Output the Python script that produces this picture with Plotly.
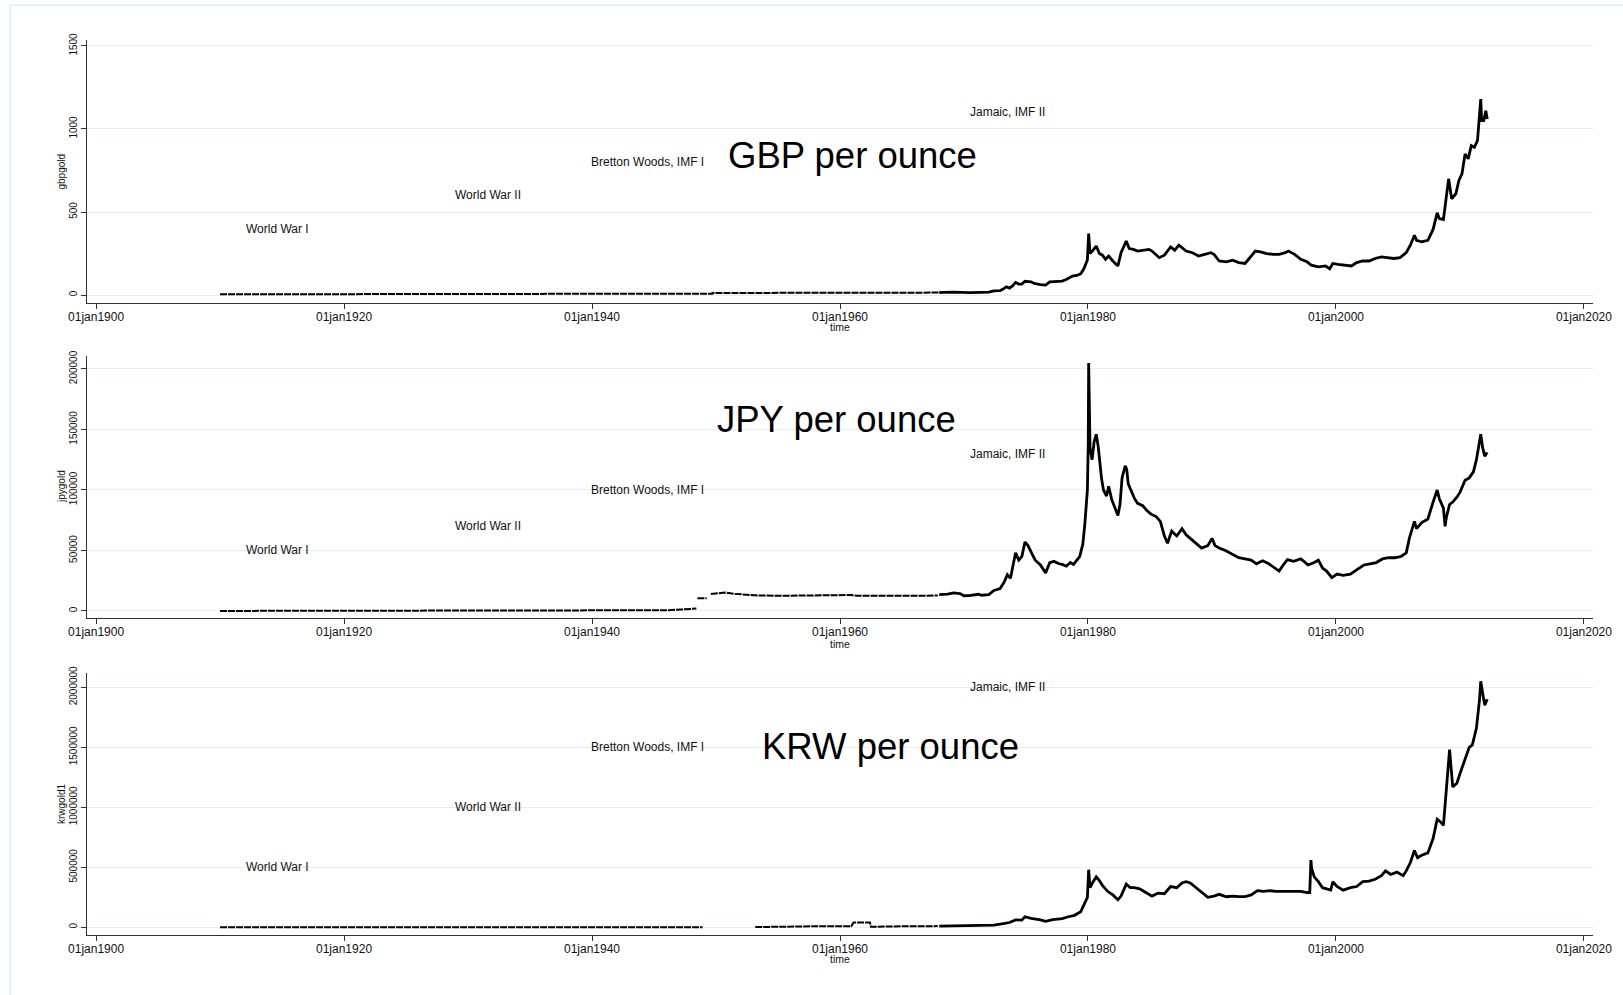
import plotly.graph_objects as go

W, H = 1623, 995

# ---------------------------------------------------------------- axes text
tick_dates = ["1900-01-01", "1920-01-01", "1940-01-01", "1960-01-01",
              "1980-01-01", "2000-01-01", "2020-01-01"]
tick_text = ["01jan1900", "01jan1920", "01jan1940", "01jan1960",
             "01jan1980", "01jan2000", "01jan2020"]

gbp_ticks = [0, 500, 1000, 1500]
jpy_ticks = [0, 50000, 100000, 150000, 200000]
krw_ticks = [0, 500000, 1000000, 1500000, 2000000]

# ---------------------------------------------------------------- events
event_text = ["World War I", "World War II", "Bretton Woods, IMF I", "Jamaic, IMF II"]
event_dates = ["1914-09-01", "1931-08-15", "1944-06-20", "1973-07-01"]
gbp_event_y = [400, 600, 800, 1100]
jpy_event_y = [50000, 70000, 100000, 130000]
krw_event_y = [500000, 1000000, 1500000, 2000000]

# ---------------------------------------------------------------- GBP per ounce
gbp_early_t = ["1910-01-01", "1914-07-31", "1919-04-01", "1920-02-01", "1922-06-01",
               "1925-04-28", "1931-09-20", "1932-06-01", "1933-06-01", "1934-06-01",
               "1938-06-01", "1939-09-01", "1949-09-17", "1949-09-19", "1951-06-01",
               "1955-01-01", "1960-10-20", "1961-06-01", "1967-11-17", "1967-12-20"]
gbp_early_v = [4.25, 4.25, 4.4, 5.9, 4.6,
               4.25, 4.25, 5.9, 6.3, 7.0,
               7.1, 8.4, 8.4, 12.4, 12.8,
               12.5, 14.0, 12.5, 12.5, 14.6]

gbp_t = ["1968-01-02", "1968-04-01", "1969-03-01", "1969-12-01", "1970-06-01",
         "1971-06-01", "1972-01-01", "1972-06-01", "1972-12-01", "1973-03-01",
         "1973-06-01", "1973-09-01", "1973-12-01", "1974-03-01", "1974-06-01",
         "1974-09-01", "1974-12-01", "1975-06-01", "1975-09-01", "1976-03-01",
         "1976-08-01", "1976-12-01", "1977-06-01", "1977-12-01", "1978-04-01",
         "1978-10-01", "1979-02-01", "1979-06-01", "1979-09-01", "1979-12-15",
         "1980-01-21", "1980-03-01", "1980-06-01", "1980-09-01", "1980-12-01",
         "1981-03-01", "1981-06-01", "1981-09-01", "1982-01-01", "1982-06-01",
         "1982-09-01", "1983-02-01", "1983-05-01", "1983-09-01", "1984-01-01",
         "1984-06-01", "1984-12-01", "1985-03-01", "1985-06-01", "1985-10-01",
         "1986-03-01", "1986-09-01", "1987-01-01", "1987-05-01", "1987-08-01",
         "1987-12-01", "1988-06-01", "1988-12-01", "1989-06-01", "1989-12-01",
         "1990-03-01", "1990-08-01", "1991-03-01", "1991-09-01", "1992-03-01",
         "1992-09-01", "1993-01-01", "1993-07-01", "1993-12-01", "1994-06-01",
         "1994-12-01", "1995-06-01", "1995-12-01", "1996-03-01", "1996-09-01",
         "1997-03-01", "1997-09-01", "1998-01-01", "1998-08-01", "1999-03-01",
         "1999-07-01", "1999-10-01", "2000-03-01", "2000-10-01", "2001-04-01",
         "2001-09-01", "2002-03-01", "2002-09-01", "2003-03-01", "2003-09-01",
         "2004-03-01", "2004-09-01", "2005-03-01", "2005-09-01", "2006-01-01",
         "2006-05-01", "2006-07-01", "2006-12-01", "2007-06-01", "2007-11-01",
         "2008-03-01", "2008-05-01", "2008-09-01", "2008-12-01", "2009-02-01",
         "2009-05-01", "2009-09-01", "2009-12-01", "2010-03-01", "2010-06-01",
         "2010-09-01", "2010-12-01", "2011-03-01", "2011-06-01", "2011-08-01",
         "2011-09-05", "2011-10-01", "2011-12-01", "2012-02-01", "2012-03-15"]
gbp_v = [14.6, 16.5, 18.0, 14.5, 14.8,
         16.5, 17.5, 25.5, 27, 36,
         50, 42, 55, 76, 66,
         66, 83, 80, 70, 63,
         60, 79, 82, 84, 93,
         114, 118, 128, 158, 212,
         370, 250, 270, 295, 250,
         240, 215, 235, 205, 175,
         255, 325, 280, 275, 265,
         270, 275, 265, 250, 225,
         240, 290, 270, 300, 285,
         265, 255, 235, 245, 255,
         245, 205, 200, 210, 195,
         190, 220, 265, 260, 250,
         245, 245, 255, 265, 245,
         215, 200, 180, 170, 175,
         158, 190, 185, 180, 175,
         195, 205, 205, 220, 230,
         225, 220, 225, 255, 300,
         360, 330, 320, 330, 395,
         495, 460, 455, 600, 700,
         580, 610, 690, 730, 850,
         820, 900, 890, 930, 1100,
         1180, 1050, 1050, 1110, 1060]

# ---------------------------------------------------------------- JPY per ounce
jpy_early_t = ["1910-01-01", "1917-09-01", "1930-01-01", "1931-12-13", "1932-12-01",
               "1934-06-01", "1937-06-01", "1941-06-01", "1945-08-01", "1946-03-01",
               "1947-03-01", "1948-06-01", None, "1948-07-01", "1949-04-01",
               None, "1949-08-01", "1950-04-01", "1950-10-01", "1951-06-01",
               "1952-06-01", "1953-06-01", "1955-06-01", "1960-10-20", "1961-06-01",
               "1967-11-20"]
jpy_early_v = [41, 41, 41, 45, 90,
               120, 122, 150, 150, 600,
               1200, 2000, None, 10500, 10500,
               None, 14000, 14800, 15200, 14200,
               13300, 12800, 12600, 13200, 12600,
               12700]

jpy_t = ["1968-01-02", "1968-03-01", "1968-09-01", "1969-03-01", "1969-09-01",
         "1970-01-01", "1970-06-01", "1971-03-01", "1971-06-01", "1972-01-01",
         "1972-06-01", "1972-12-01", "1973-04-01", "1973-07-01", "1973-10-01",
         "1974-01-01", "1974-03-01", "1974-06-01", "1974-09-01", "1974-12-01",
         "1975-03-01", "1975-07-01", "1975-10-01", "1976-03-01", "1976-08-01",
         "1976-12-01", "1977-04-01", "1977-09-01", "1977-12-01", "1978-04-01",
         "1978-08-01", "1978-11-01", "1979-02-01", "1979-05-01", "1979-08-01",
         "1979-10-01", "1979-12-15", "1980-01-10", "1980-01-21", "1980-02-01",
         "1980-03-01", "1980-05-01", "1980-07-01", "1980-09-01", "1980-11-01",
         "1981-02-01", "1981-04-01", "1981-07-01", "1981-09-01", "1981-12-01",
         "1982-03-01", "1982-06-01", "1982-08-01", "1982-10-01", "1983-01-01",
         "1983-02-15", "1983-04-01", "1983-07-01", "1983-10-01", "1984-01-01",
         "1984-06-01", "1984-10-01", "1985-02-01", "1985-07-01", "1985-11-01",
         "1986-03-01", "1986-06-01", "1986-10-01", "1987-03-01", "1987-08-01",
         "1987-12-01", "1988-04-01", "1988-10-01", "1989-03-01", "1989-09-01",
         "1990-01-01", "1990-04-01", "1990-08-01", "1991-02-01", "1991-09-01",
         "1992-03-01", "1992-09-01", "1993-03-01", "1993-08-01", "1994-02-01",
         "1994-08-01", "1995-03-01", "1995-06-01", "1995-10-01", "1996-02-01",
         "1996-08-01", "1997-03-01", "1997-06-01", "1997-10-01", "1998-04-01",
         "1998-08-01", "1998-12-01", "1999-04-01", "1999-09-01", "2000-02-01",
         "2000-08-01", "2001-03-01", "2001-09-01", "2002-04-01", "2002-10-01",
         "2003-04-01", "2003-10-01", "2004-04-01", "2004-10-01", "2005-04-01",
         "2005-09-01", "2005-12-01", "2006-05-01", "2006-07-01", "2006-12-01",
         "2007-06-01", "2007-11-01", "2008-03-01", "2008-05-01", "2008-09-01",
         "2008-10-20", "2008-12-01", "2009-03-01", "2009-06-01", "2009-10-01",
         "2010-01-01", "2010-06-01", "2010-10-01", "2011-02-01", "2011-05-01",
         "2011-08-01", "2011-09-05", "2011-11-01", "2012-01-01", "2012-03-15"]
jpy_v = [13500, 13500, 14000, 15000, 14400,
         12600, 12700, 13800, 13000, 13500,
         17000, 18500, 24000, 30000, 27000,
         40000, 48000, 42000, 45000, 57000,
         54000, 47000, 42000, 38000, 31500,
         40000, 41000, 39000, 38500, 37000,
         40000, 38500, 42000, 45000, 55000,
         72000, 100000, 140000, 205000, 170000,
         135000, 125000, 140000, 146000, 135000,
         110000, 100000, 95000, 103000, 92000,
         85000, 79000, 88000, 110000, 120000,
         117000, 105000, 99000, 93000, 89000,
         87000, 83000, 80000, 78000, 74000,
         62000, 56000, 66000, 62000, 68000,
         63000, 60000, 56000, 52000, 54000,
         60000, 54000, 52000, 50000, 47000,
         44000, 43000, 42000, 39000, 41500,
         39000, 35000, 33000, 38000, 42500,
         41000, 43000, 41000, 38000, 40000,
         42000, 35500, 33000, 27500, 30500,
         29500, 30500, 34000, 38000, 39000,
         40000, 43000, 44000, 44000, 45000,
         48000, 60000, 74000, 68000, 73000,
         76000, 90000, 100000, 93000, 85000,
         70000, 78000, 88000, 90000, 94000,
         98000, 108000, 110000, 115000, 125000,
         140000, 146000, 135000, 128000, 131000]

# ---------------------------------------------------------------- KRW per ounce
krw_early_t = ["1910-01-01", "1931-12-13", "1934-06-01", "1945-08-01", "1946-06-01",
               "1948-12-01", None, "1953-03-01", "1955-01-01", "1958-01-01",
               "1960-12-01", "1961-02-01", "1962-06-01", "1962-07-01", "1965-06-01",
               "1967-11-20"]
krw_early_v = [41, 45, 120, 150, 400,
               1500, None, 2000, 6000, 8500,
               9000, 40000, 40000, 4500, 9000,
               10000]

krw_t = ["1968-01-02", "1970-01-01", "1971-06-01", "1972-06-01", "1973-03-01",
         "1973-09-01", "1974-03-01", "1974-09-01", "1974-12-01", "1975-06-01",
         "1976-03-01", "1976-08-01", "1977-03-01", "1977-12-01", "1978-06-01",
         "1978-12-01", "1979-06-01", "1979-10-01", "1979-12-15", "1980-01-21",
         "1980-03-01", "1980-06-01", "1980-09-01", "1980-12-01", "1981-03-01",
         "1981-08-01", "1982-01-01", "1982-06-01", "1982-09-01", "1983-02-01",
         "1983-06-01", "1983-10-01", "1984-03-01", "1984-09-01", "1985-03-01",
         "1985-09-01", "1986-03-01", "1986-09-01", "1987-03-01", "1987-08-01",
         "1987-12-01", "1988-04-01", "1988-09-01", "1989-03-01", "1989-09-01",
         "1990-03-01", "1990-08-01", "1991-03-01", "1991-09-01", "1992-03-01",
         "1992-09-01", "1993-03-01", "1993-09-01", "1994-03-01", "1994-09-01",
         "1995-03-01", "1995-09-01", "1996-03-01", "1996-09-01", "1997-03-01",
         "1997-09-01", "1997-11-20", "1997-12-24", "1998-01-15", "1998-04-01",
         "1998-08-01", "1998-12-01", "1999-04-01", "1999-08-01", "1999-10-01",
         "2000-02-01", "2000-08-01", "2001-03-01", "2001-09-01", "2002-03-01",
         "2002-09-01", "2003-03-01", "2003-09-01", "2004-01-01", "2004-06-01",
         "2004-12-01", "2005-06-01", "2005-09-01", "2006-01-01", "2006-05-01",
         "2006-08-01", "2006-12-01", "2007-06-01", "2007-11-01", "2008-03-01",
         "2008-06-01", "2008-09-01", "2008-10-25", "2008-12-01", "2009-03-01",
         "2009-06-01", "2009-10-01", "2010-01-01", "2010-06-01", "2010-10-01",
         "2011-01-01", "2011-05-01", "2011-08-01", "2011-09-05", "2011-11-01",
         "2012-01-01", "2012-03-15"]
krw_v = [10000, 11000, 13000, 18000, 30000,
         40000, 62000, 60000, 88000, 75000,
         62000, 50000, 65000, 72000, 88000,
         100000, 130000, 200000, 250000, 480000,
         330000, 380000, 420000, 390000, 350000,
         300000, 270000, 230000, 260000, 360000,
         330000, 330000, 320000, 290000, 260000,
         285000, 280000, 340000, 330000, 370000,
         380000, 370000, 335000, 290000, 250000,
         260000, 275000, 255000, 260000, 255000,
         255000, 270000, 305000, 300000, 305000,
         300000, 300000, 305000, 300000, 300000,
         290000, 290000, 560000, 490000, 420000,
         380000, 330000, 320000, 310000, 380000,
         340000, 310000, 330000, 340000, 380000,
         385000, 400000, 430000, 470000, 440000,
         460000, 430000, 470000, 540000, 640000,
         580000, 600000, 620000, 740000, 900000,
         880000, 850000, 1050000, 1120000, 1480000,
         1170000, 1200000, 1280000, 1400000, 1500000,
         1520000, 1660000, 1900000, 2050000, 1950000,
         1850000, 1900000]

# ---------------------------------------------------------------- layout helpers
def px_x(x):
    return x / W


def px_y(y):
    return 1 - y / H


FONT = "Liberation Sans, Arial, Helvetica, sans-serif"
GRID = "#e6eff0"
AXIS = "#333333"
X_RANGE = ["1899-04-08", "2020-09-24"]
X_DOMAIN = [px_x(87), px_x(1593)]

panels = [
    dict(name="gbpgold", early_t=gbp_early_t, early_v=gbp_early_v, t=gbp_t, v=gbp_v,
         ticks=gbp_ticks, yrange=[-48, 1536], top=40, bottom=303,
         ev_y=gbp_event_y, title="GBP per ounce", title_at=("1961-01-01", 840),
         time_y=327),
    dict(name="jpygold", early_t=jpy_early_t, early_v=jpy_early_v, t=jpy_t, v=jpy_v,
         ticks=jpy_ticks, yrange=[-5800, 210700], top=356, bottom=618,
         ev_y=jpy_event_y, title="JPY per ounce", title_at=("1959-10-01", 158000),
         time_y=644),
    dict(name="krwgold1", early_t=krw_early_t, early_v=krw_early_v, t=krw_t, v=krw_v,
         ticks=krw_ticks, yrange=[-64000, 2119000], top=673, bottom=935,
         ev_y=krw_event_y, title="KRW per ounce", title_at=("1964-02-01", 1510000),
         time_y=959),
]

fig = go.Figure()
annotations = []

for i, p in enumerate(panels, start=1):
    sfx = "" if i == 1 else str(i)
    xa, ya = "x" + sfx, "y" + sfx

    fig.add_trace(go.Scatter(
        x=p["early_t"], y=p["early_v"], xaxis=xa, yaxis=ya, mode="lines",
        line=dict(color="black", width=2, dash="7px,1px"),
        connectgaps=False, showlegend=False, hoverinfo="skip"))
    fig.add_trace(go.Scatter(
        x=p["t"], y=p["v"], xaxis=xa, yaxis=ya, mode="lines",
        line=dict(color="black", width=2.8),
        showlegend=False))

    fig.update_layout(**{
        "xaxis" + sfx: dict(
            domain=X_DOMAIN, range=X_RANGE, type="date", anchor=ya,
            automargin=False,
            tickvals=tick_dates, ticktext=tick_text,
            showgrid=False, zeroline=False, showline=True,
            linecolor=AXIS, linewidth=1.3, ticks="outside", ticklen=5,
            tickcolor=AXIS, tickwidth=1, ticklabelstandoff=-3,
            tickfont=dict(family=FONT, size=12, color="#111")),
        "yaxis" + sfx: dict(
            domain=[px_y(p["bottom"]), px_y(p["top"])], range=p["yrange"],
            anchor=xa, automargin=False,
            tickvals=p["ticks"], tickformat="d", tickangle=-90,
            showgrid=True, gridcolor=GRID, gridwidth=1, zeroline=False,
            showline=True, linecolor=AXIS, linewidth=1.3,
            ticks="outside", ticklen=5, tickcolor=AXIS, tickwidth=1,
            tickfont=dict(family=FONT, size=10, color="#111")),
    })

    # regime labels
    for txt, d, yv in zip(event_text, event_dates, p["ev_y"]):
        annotations.append(dict(
            x=d, y=yv, xref=xa, yref=ya, text=txt, showarrow=False,
            xanchor="center", yanchor="middle",
            font=dict(family=FONT, size=12, color="#111")))

    # large in-plot heading
    annotations.append(dict(
        x=p["title_at"][0], y=p["title_at"][1], xref=xa, yref=ya,
        text=p["title"], showarrow=False, xanchor="center", yanchor="middle",
        font=dict(family=FONT, size=36.5, color="black")))

    # axis titles
    annotations.append(dict(
        x=px_x(61), y=px_y((p["top"] + p["bottom"]) / 2), xref="paper", yref="paper",
        text=p["name"], textangle=-90, showarrow=False,
        xanchor="center", yanchor="middle",
        font=dict(family=FONT, size=10, color="#111")))
    annotations.append(dict(
        x=px_x(840), y=px_y(p["time_y"]), xref="paper", yref="paper",
        text="time", showarrow=False, xanchor="center", yanchor="middle",
        font=dict(family=FONT, size=10.5, color="#111")))

fig.update_layout(
    width=W, height=H,
    margin=dict(l=0, r=0, t=0, b=0),
    paper_bgcolor="white", plot_bgcolor="white",
    annotations=annotations,
    shapes=[dict(type="rect", xref="paper", yref="paper",
                 x0=px_x(10), x1=1.02, y0=-0.02, y1=px_y(5),
                 line=dict(color="#e4ecef", width=1.5), fillcolor="rgba(0,0,0,0)",
                 layer="below")],
)

fig.write_html("out.html")
